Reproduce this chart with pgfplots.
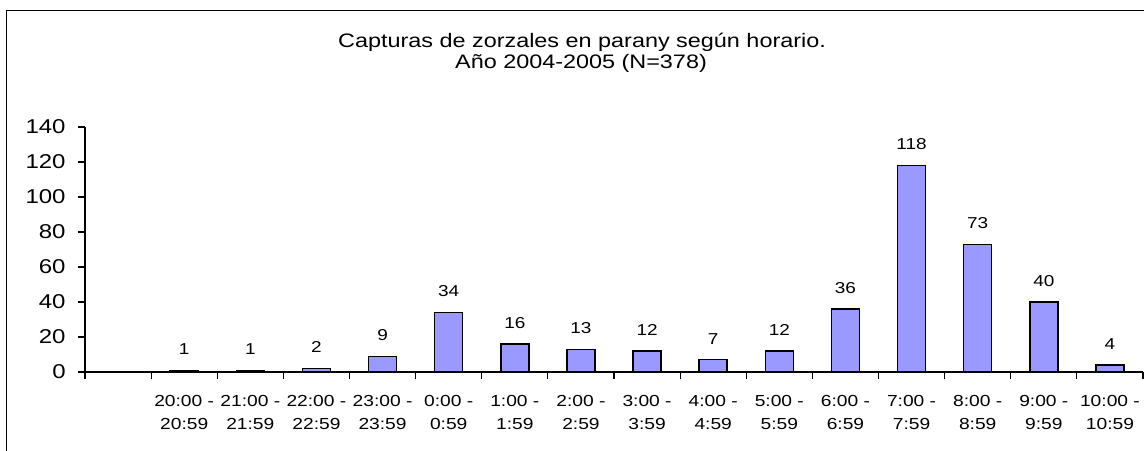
\documentclass[border=0pt]{standalone}
\usepackage{fontspec}
\setmainfont{Liberation Sans}[FakeStretch=1.2]
\usepackage{pgfplots}
\pgfplotsset{compat=1.18}
\definecolor{barfill}{RGB}{153,153,255}
\pgfplotstableread{
x y
1 1
2 1
3 2
4 9
5 34
6 16
7 13
8 12
9 7
10 12
11 36
12 118
13 73
14 40
15 4
}\capturas
\begin{document}
\begin{tikzpicture}
\useasboundingbox (0,0) rectangle (572pt,-225pt);
\draw[line width=0.65pt] (3.4pt,-300pt) -- (3.4pt,-5.3pt) -- (700pt,-5.3pt);
\node[anchor=base, inner sep=0pt, font=\fontsize{9.75}{11}\selectfont] at (291pt,-23.5pt) {Capturas de zorzales en parany según horario.};
\node[anchor=base, inner sep=0pt, font=\fontsize{9.75}{11}\selectfont] at (290.5pt,-34pt) {Año 2004-2005 (N=378)};
\begin{axis}[
  scale only axis, width=529pt, height=122.5pt,
  at={(42.5pt,-186pt)}, anchor=south west,
  xmin=-0.5, xmax=15.5, ymin=0, ymax=140,
  axis x line*=bottom, axis y line*=left,
  axis line style={line width=0.65pt, -},
  tick align=outside,
  tick style={black, line width=0.6pt},
  major tick length=3.5pt,
  /pgf/number format/assume math mode=true,
  ytick={0,20,40,60,80,100,120,140},
  xtick={-0.5,0.5,1.5,2.5,3.5,4.5,5.5,6.5,7.5,8.5,9.5,10.5,11.5,12.5,13.5,14.5,15.5},
  x tick label as interval,
  xticklabels={{},{20:00 -\\20:59},{21:00 -\\21:59},{22:00 -\\22:59},{23:00 -\\23:59},{0:00 -\\0:59},{1:00 -\\1:59},{2:00 -\\2:59},{3:00 -\\3:59},{4:00 -\\4:59},{5:00 -\\5:59},{6:00 -\\6:59},{7:00 -\\7:59},{8:00 -\\8:59},{9:00 -\\9:59},{10:00 -\\10:59}},
  xticklabel style={font=\fontsize{8}{11.7}\selectfont, align=center, anchor=north, inner sep=0pt, yshift=-8pt},
  yticklabel style={font=\fontsize{10}{12}\selectfont, anchor=east, inner sep=0pt, xshift=-6pt},
  ybar, bar width=14pt,
  nodes near coords,
  every node near coord/.append style={font=\fontsize{7.9}{10}\selectfont, inner sep=0pt, anchor=south, yshift=7.5pt},
  clip=false,
]
\addplot[fill=barfill, draw=black, line width=0.7pt] table[x=x, y=y] {\capturas};
\end{axis}
\end{tikzpicture}
\end{document}
